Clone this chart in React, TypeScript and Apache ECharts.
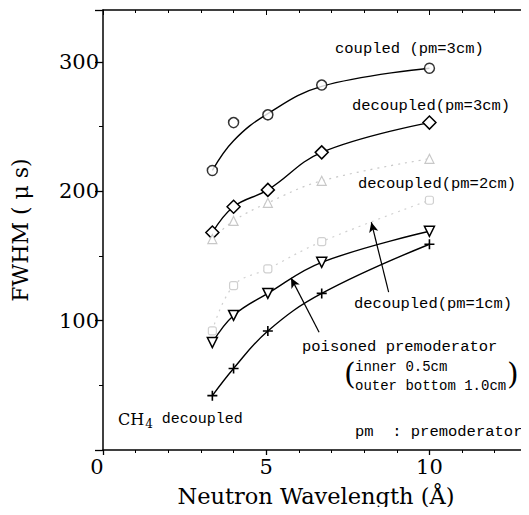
import React, { useEffect, useRef } from "react";
import * as echarts from "echarts";

// Data
const wavelengths = [3.35, 4.0, 5.05, 6.7, 10.0];
const coupledPts = [216, 253, 259, 282, 295];
const coupledFit = [216, 239, 260, 281, 295];
const decoupled3 = [168, 188, 201, 230, 253];
const decoupled2 = [163, 177, 191, 208, 225];
const decoupled1 = [92, 127, 140, 161, 193];
const poisoned = [83, 104, 121, 145, 169];
const ch4 = [42, 63, 92, 121, 159];
const xTicks = [0, 5, 10];
const yTicks = [100, 200, 300];

const pair = (ys: number[]) => wavelengths.map((x, i) => [x, ys[i]]);

const LBL = "Liberation Mono";
const SERIF = "DejaVu Serif";

export default function App() {
  const ref = useRef<HTMLDivElement>(null);
  useEffect(() => {
    const chart = echarts.init(ref.current!, undefined, { renderer: "svg" });
    const axisLine = { show: true, lineStyle: { color: "#000", width: 1.5 } };
    const option: any = {
      animation: false,
      backgroundColor: "#fff",
      grid: { left: 103, top: 10, width: 440, height: 440 },
      xAxis: [
        {
          type: "value",
          min: 0,
          max: 13.05,
          interval: 5,
          position: "bottom",
          axisLine,
          axisTick: { show: true, inside: false, length: 5, lineStyle: { color: "#000", width: 1.3 } },
          minorTick: { show: true, splitNumber: 5, length: 3, lineStyle: { color: "#000" } },
          splitLine: { show: false },
          axisLabel: {
            showMaxLabel: false,
            color: "#000",
            fontFamily: SERIF,
            fontSize: 21,
            margin: 6,
            formatter: (v: number) => (xTicks.includes(v) ? (v === 0 ? "{z|0}" : String(v)) : ""),
            rich: { z: { fontFamily: SERIF, fontSize: 21, color: "#000", padding: [0, 12, 0, 0] } },
          },
          name: "Neutron Wavelength (Å)",
          nameLocation: "middle",
          nameGap: 34,
          nameTextStyle: { color: "#000", fontFamily: SERIF, fontSize: 22.5 },
        },
        {
          type: "value",
          min: 0,
          max: 13.05,
          interval: 5,
          position: "top",
          axisLine,
          axisTick: { show: true, inside: true, length: 5, lineStyle: { color: "#000" } },
          minorTick: { show: true, splitNumber: 5, length: 3, lineStyle: { color: "#000" } },
          splitLine: { show: false },
          axisLabel: { show: false },
        },
      ],
      yAxis: [
        {
          type: "value",
          min: 0,
          max: 340,
          interval: 100,
          position: "left",
          axisLine,
          axisTick: { show: true, inside: false, length: 8, lineStyle: { color: "#000", width: 1.3 } },
          minorTick: { show: true, splitNumber: 2, length: 4, lineStyle: { color: "#000" } },
          splitLine: { show: false },
          axisLabel: {
            showMinLabel: false,
            showMaxLabel: false,
            color: "#000",
            fontFamily: SERIF,
            fontSize: 21,
            margin: 4,
            formatter: (v: number) => (yTicks.includes(v) ? String(v) : ""),
          },
          name: "FWHM ( μ s)",
          nameLocation: "middle",
          nameGap: 72,
          nameRotate: 90,
          nameTextStyle: { color: "#000", fontFamily: SERIF, fontSize: 22 },
        },
      ],
      series: [
        {
          type: "line",
          data: pair(coupledFit),
          smooth: 0.4,
          showSymbol: false,
          lineStyle: { color: "#000", width: 1.4 },
          z: 2,
        },
        {
          type: "scatter",
          data: pair(coupledPts),
          symbol: "circle",
          symbolSize: 10,
          itemStyle: { color: "#fff", borderColor: "#000", borderWidth: 1.5 },
          z: 3,
        },
        {
          type: "line",
          data: pair(decoupled3),
          smooth: 0.4,
          symbol: "diamond",
          symbolSize: 13,
          showAllSymbol: true,
          itemStyle: { color: "#fff", borderColor: "#000", borderWidth: 1.5 },
          lineStyle: { color: "#000", width: 1.4 },
        },
        {
          type: "line",
          data: pair(decoupled2),
          smooth: 0.4,
          symbol: "triangle",
          symbolSize: 9,
          itemStyle: { color: "#fff", borderColor: "#c8c8c8", borderWidth: 1.2 },
          lineStyle: { color: "#c8c8c8", width: 1.2, type: [2, 5] },
        },
        {
          type: "line",
          data: pair(decoupled1),
          smooth: 0.4,
          symbol: "roundRect",
          symbolSize: 8,
          itemStyle: { color: "#fff", borderColor: "#d0d0d0", borderWidth: 1.2 },
          lineStyle: { color: "#d0d0d0", width: 1.2, type: [2, 5] },
        },
        {
          type: "line",
          data: pair(poisoned),
          smooth: 0.4,
          symbol: "triangle",
          symbolRotate: 180,
          symbolSize: 10,
          itemStyle: { color: "#fff", borderColor: "#000", borderWidth: 1.5 },
          lineStyle: { color: "#000", width: 1.4 },
        },
        {
          type: "line",
          data: pair(ch4),
          smooth: 0.4,
          symbol: "path://M0,5L10,5M5,0L5,10",
          symbolSize: 10,
          itemStyle: { color: "none", borderColor: "#000", borderWidth: 1.6 },
          lineStyle: { color: "#000", width: 1.4 },
          markLine: {
            silent: true,
            symbol: ["none", "arrow"],
            symbolSize: [7, 10],
            label: { show: false },
            lineStyle: { color: "#000", width: 1.2, type: "solid" },
            data: [
              [{ coord: [8.75, 122] }, { coord: [8.22, 176] }],
              [{ coord: [6.62, 91] }, { coord: [5.76, 133] }],
            ],
          },
        },
      ],
      graphic: [
        { type: "text", left: 335, top: 41, style: { text: "coupled (pm=3cm)", font: `15.5px "${LBL}"`, fill: "#000" } },
        { type: "text", left: 352, top: 98, style: { text: "decoupled(pm=3cm)", font: `15.5px "${LBL}"`, fill: "#000" } },
        { type: "text", left: 358, top: 176, style: { text: "decoupled(pm=2cm)", font: `15.5px "${LBL}"`, fill: "#000" } },
        { type: "text", left: 354, top: 296, style: { text: "decoupled(pm=1cm)", font: `15.5px "${LBL}"`, fill: "#000" } },
        { type: "text", left: 302, top: 339, style: { text: "poisoned premoderator", font: `15.5px "${LBL}"`, fill: "#000" } },
        { type: "text", left: 355, top: 360, style: { text: "inner 0.5cm", font: `14px "${LBL}"`, fill: "#000" } },
        { type: "text", left: 355, top: 379, style: { text: "outer bottom 1.0cm", font: `14px "${LBL}"`, fill: "#000" } },
        { type: "text", left: 344, top: 358, style: { text: "(", font: `30px "${SERIF}"`, fill: "#000" } },
        { type: "text", left: 507, top: 358, style: { text: ")", font: `30px "${SERIF}"`, fill: "#000" } },
        { type: "text", left: 355, top: 424, style: { text: "pm  : premoderator", font: `15.5px "${LBL}"`, fill: "#000" } },
        {
          type: "text",
          left: 118,
          top: 411,
          style: {
            text: "{c|CH}{s|4}{a| decoupled}",
            rich: {
              c: { fontFamily: SERIF, fontSize: 16, color: "#000", lineHeight: 22, verticalAlign: "middle" },
              a: { fontFamily: LBL, fontSize: 15, color: "#000", lineHeight: 22, verticalAlign: "middle" },
              s: { fontFamily: SERIF, fontSize: 12, color: "#000", lineHeight: 22, verticalAlign: "bottom", padding: [0, 0, 0, 1] },
            },
          },
        },
      ],
    };
    chart.setOption(option);
    return () => chart.dispose();
  }, []);
  return <div ref={ref} style={{ width: 529, height: 515, margin: -8 }} />;
}
